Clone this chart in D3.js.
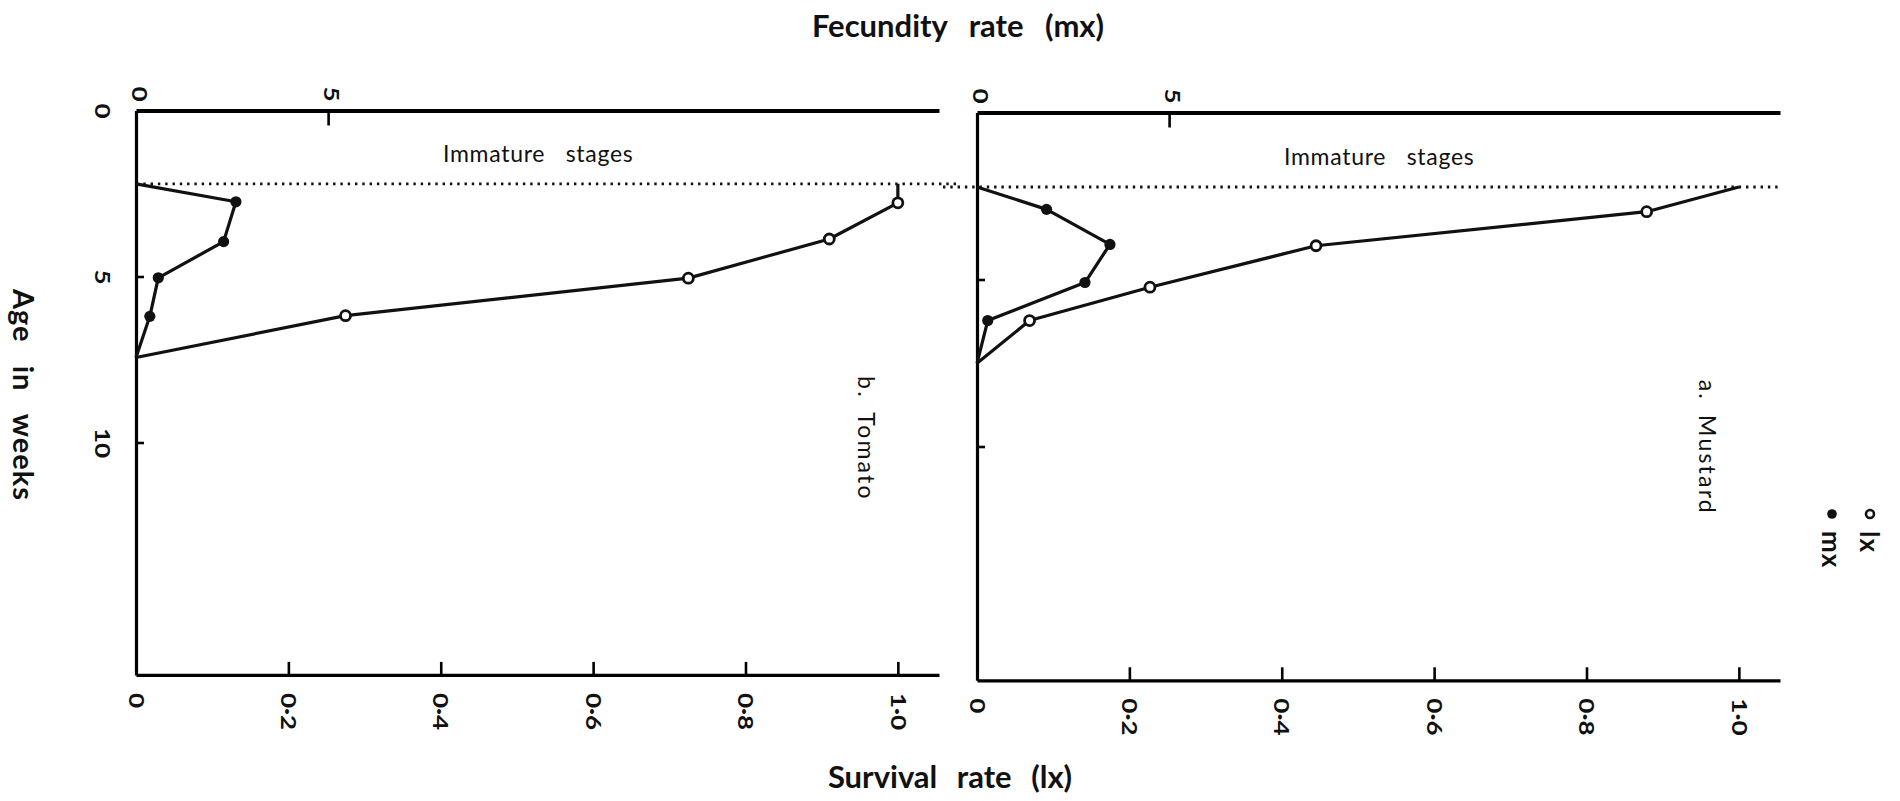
<!DOCTYPE html>
<html>
<head>
<meta charset="utf-8">
<script src="https://cdn.jsdelivr.net/npm/d3@7"></script>
<style>
  html, body { margin: 0; padding: 0; background: #fff; }
  svg { display: block; }
  text { font-family: Lato, "DejaVu Sans", sans-serif; fill: #111; }
</style>
</head>
<body>
<svg id="chart" width="1900" height="801"></svg>
<script>
// Age axis (weeks) and tick values
const AGE_MAX = 17;
const ageTicks = [5, 10];
const ageLabels = [0, 5, 10];
const lxTicks = [0, 0.2, 0.4, 0.6, 0.8, 1.0];
const mxTicks = [0, 5];

// b. Tomato
const tomatoImmatureEnd = 2.21;
const tomatoLastAge = 7.44;
const tomatoLxAge = [2.78, 3.87, 5.05, 6.18];
const tomatoLx = [1.0, 0.91, 0.725, 0.275];
const tomatoMxAge = [2.75, 3.95, 5.04, 6.2];
const tomatoMx = [2.6, 2.28, 0.58, 0.36];

// a. Mustard
const mustardImmatureEnd = 2.23;
const mustardLastAge = 7.51;
const mustardLxAge = [2.97, 3.99, 5.23, 6.23];
const mustardLx = [0.879, 0.445, 0.227, 0.069];
const mustardMxAge = [2.9, 3.95, 5.09, 6.23];
const mustardMx = [1.81, 3.46, 2.81, 0.28];

const svg = d3.select("#chart");
svg.append("rect").attr("width", 1900).attr("height", 801).attr("fill", "#fff");

const W = 803;               // panel width in px
const lxScale = d3.scaleLinear().domain([0, 1.054]).range([0, W]);
const mxScale = d3.scaleLinear().domain([0, 20.9]).range([0, W]);
const fmt = d => d === 0 ? "0" : d3.format(".1f")(d).replace(".", "\u00b7");

const panels = [
  { label: "b. Tomato", left: 136, top: 110.5, ppw: 33.2, ageLabels: true,
    immature: tomatoImmatureEnd, last: tomatoLastAge,
    lxAge: tomatoLxAge, lx: tomatoLx, mxAge: tomatoMxAge, mx: tomatoMx,
    dotFrom: 0, dotTo: 824 },
  { label: "a. Mustard", left: 977, top: 112.5, ppw: 33.4, ageLabels: false,
    immature: mustardImmatureEnd, last: mustardLastAge,
    lxAge: mustardLxAge, lx: mustardLx, mxAge: mustardMxAge, mx: mustardMx,
    dotFrom: -34, dotTo: 803 }
];

// tick labels run top-to-bottom, drawn in a wide face
function rotateTickText(sel, anchor, dx, dy) {
  sel.selectAll(".tick text")
    .attr("x", null).attr("y", null).attr("dy", null)
    .attr("transform", `translate(${dx},${dy}) rotate(90) scale(1.3,1)`)
    .attr("text-anchor", anchor)
    .attr("dominant-baseline", "central")
    .style("font-size", "20px").style("font-weight", "700")
    .attr("fill", "#111");
}

panels.forEach(p => {
  const H = AGE_MAX * p.ppw;
  const y = d3.scaleLinear().domain([0, AGE_MAX]).range([0, H]);
  const g = svg.append("g").attr("transform", `translate(${p.left},${p.top})`);

  // top axis: fecundity (mx)
  const top = g.append("g")
    .call(d3.axisTop(mxScale).tickValues(mxTicks).tickSizeInner(-15).tickSizeOuter(0).tickFormat(d3.format("d")));
  top.select(".domain").attr("stroke-width", 4);
  top.selectAll(".tick line").attr("stroke-width", 2.6);
  top.selectAll(".tick").filter(d => d === 0).select("line").remove();
  rotateTickText(top, "end", 3, -9);

  // bottom axis: survival (lx)
  const bottom = g.append("g").attr("transform", `translate(0,${H})`)
    .call(d3.axisBottom(lxScale).tickValues(lxTicks).tickSizeInner(-13).tickSizeOuter(0).tickFormat(fmt));
  bottom.select(".domain").attr("stroke-width", 3.2);
  bottom.selectAll(".tick line").attr("stroke-width", 2.6);
  bottom.selectAll(".tick").filter(d => d === 0).select("line").remove();
  rotateTickText(bottom, "start", 0, 18);

  // vertical axis: age in weeks
  const left = g.append("g")
    .call(d3.axisLeft(y).tickValues(p.ageLabels ? ageLabels : ageTicks).tickSizeInner(-8).tickSizeOuter(0)
      .tickFormat(p.ageLabels ? d3.format("d") : () => ""));
  left.select(".domain").attr("stroke-width", 3.2);
  left.selectAll(".tick line").attr("stroke-width", 2.6);
  left.selectAll(".tick").filter(d => d === 0).select("line").remove();
  rotateTickText(left, "middle", -33, 0);

  // end of immature stages
  g.append("line")
    .attr("x1", p.dotFrom).attr("x2", p.dotTo)
    .attr("y1", y(p.immature)).attr("y2", y(p.immature))
    .attr("stroke", "#111").attr("stroke-width", 2.8)
    .attr("stroke-dasharray", "2.4 4.9");

  g.append("text")
    .attr("x", 307).attr("y", y(p.immature) - 22)
    .style("font-size", "23px").style("word-spacing", "14px").style("letter-spacing", "0.7px")
    .text("Immature stages");

  // survival (lx) and fecundity (mx) lines
  const lxPts = [[p.immature, 1.0]].concat(p.lxAge.map((a, i) => [a, p.lx[i]]), [[p.last, 0]]);
  const mxPts = [[p.immature, 0]].concat(p.mxAge.map((a, i) => [a, p.mx[i]]), [[p.last, 0]]);

  g.append("path")
    .attr("d", d3.line().x(d => lxScale(d[1])).y(d => y(d[0]))(lxPts))
    .attr("fill", "none").attr("stroke", "#111").attr("stroke-width", 3.2)
    .attr("stroke-linejoin", "round");
  g.append("path")
    .attr("d", d3.line().x(d => mxScale(d[1])).y(d => y(d[0]))(mxPts))
    .attr("fill", "none").attr("stroke", "#111").attr("stroke-width", 3.2)
    .attr("stroke-linejoin", "round");

  g.selectAll("circle.lx").data(p.lxAge).join("circle")
    .attr("class", "lx")
    .attr("cx", (a, i) => lxScale(p.lx[i])).attr("cy", a => y(a))
    .attr("r", 5).attr("fill", "#fff").attr("stroke", "#111").attr("stroke-width", 2.8);
  g.selectAll("circle.mx").data(p.mxAge).join("circle")
    .attr("class", "mx")
    .attr("cx", (a, i) => mxScale(p.mx[i])).attr("cy", a => y(a))
    .attr("r", 5.6).attr("fill", "#111");

  // panel label
  g.append("text")
    .attr("transform", `translate(731,${y(8.0)}) rotate(90)`)
    .attr("dominant-baseline", "central")
    .style("font-size", "23px").style("word-spacing", "6px").style("letter-spacing", "2.2px")
    .text(p.label);
});

// axis titles
svg.append("text")
  .attr("x", 958).attr("y", 37).attr("text-anchor", "middle")
  .style("font-size", "31px").style("font-weight", "700").style("word-spacing", "14px")
  .text("Fecundity rate (mx)");
svg.append("text")
  .attr("x", 950).attr("y", 788).attr("text-anchor", "middle")
  .style("font-size", "31px").style("font-weight", "700").style("word-spacing", "12px")
  .text("Survival rate (lx)");
svg.append("text")
  .attr("transform", "translate(24,395) rotate(90)")
  .attr("text-anchor", "middle").attr("dominant-baseline", "central")
  .style("font-size", "29px").style("font-weight", "700").style("word-spacing", "15px")
  .style("letter-spacing", "1px")
  .text("Age in weeks");

// key
const key = svg.append("g");
key.append("circle").attr("cx", 1870).attr("cy", 514).attr("r", 4)
  .attr("fill", "#fff").attr("stroke", "#111").attr("stroke-width", 2.6);
key.append("text").attr("transform", "translate(1870,531) rotate(90)")
  .attr("dominant-baseline", "central")
  .style("font-size", "26px").style("font-weight", "700").style("letter-spacing", "1px").text("lx");
key.append("circle").attr("cx", 1832).attr("cy", 514).attr("r", 4.8).attr("fill", "#111");
key.append("text").attr("transform", "translate(1832,531) rotate(90)")
  .attr("dominant-baseline", "central")
  .style("font-size", "26px").style("font-weight", "700").style("letter-spacing", "1px").text("mx");
</script>
</body>
</html>
